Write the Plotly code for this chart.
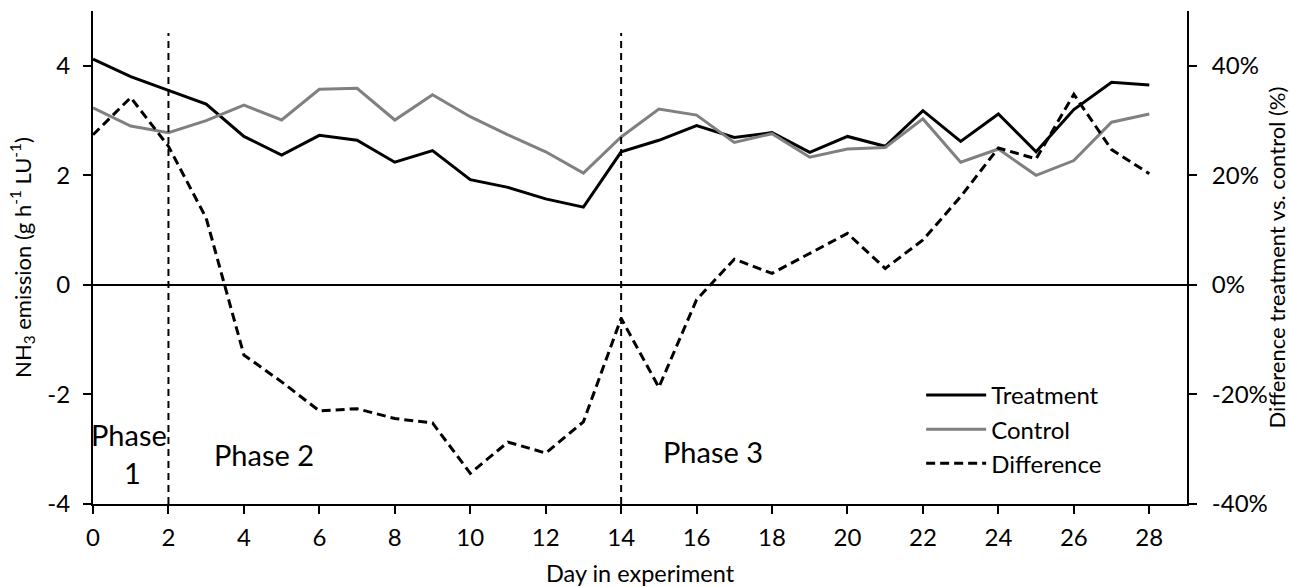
import plotly.graph_objects as go

days = list(range(29))
treatment = [4.12, 3.80, 3.55, 3.30, 2.71, 2.37, 2.73, 2.64, 2.24, 2.45,
             1.92, 1.78, 1.57, 1.42, 2.43, 2.64, 2.91, 2.69, 2.78, 2.42,
             2.71, 2.53, 3.18, 2.62, 3.12, 2.43, 3.20, 3.70, 3.65]
control = [3.23, 2.90, 2.78, 3.00, 3.28, 3.01, 3.57, 3.59, 3.01, 3.47,
           3.07, 2.74, 2.43, 2.04, 2.70, 3.21, 3.10, 2.60, 2.76, 2.33,
           2.48, 2.51, 3.03, 2.24, 2.48, 2.00, 2.27, 2.97, 3.12]
difference = [0.274, 0.342, 0.253, 0.122, -0.128, -0.177, -0.230, -0.226, -0.244, -0.252,
              -0.344, -0.287, -0.307, -0.250, -0.061, -0.187, -0.027, 0.047, 0.021, 0.058,
              0.094, 0.030, 0.082, 0.161, 0.250, 0.230, 0.348, 0.247, 0.203]

phase_bounds = [2, 14]
phase_labels = [("Phase", 0.96, -2.74), ("1", 1.04, -3.42),
                ("Phase 2", 4.52, -3.10), ("Phase 3", 16.44, -3.05)]
x_ticks = list(range(0, 29, 2))
y_ticks = [-4, -2, 0, 2, 4]
y_ticktext = ["-4", "-2", "0", "2", "4"]
y2_ticks = [-0.4, -0.2, 0, 0.2, 0.4]
y2_ticktext = ["-40%", "-20%", "0%", "20%", "40%"]

FONT = "Lato"
fig = go.Figure()
fig.add_trace(go.Scatter(x=days, y=treatment, name="Treatment", mode="lines",
                         line=dict(color="black", width=3)))
fig.add_trace(go.Scatter(x=days, y=control, name="Control", mode="lines",
                         line=dict(color="#808080", width=3)))
fig.add_trace(go.Scatter(x=days, y=difference, name="Difference", mode="lines",
                         yaxis="y2",
                         line=dict(color="black", width=3, dash="9px,5px")))

# zero line
fig.add_shape(type="line", xref="x", yref="y", x0=0, x1=29, y0=0, y1=0,
              line=dict(color="black", width=2), layer="below")
for b in phase_bounds:
    fig.add_shape(type="line", xref="x", yref="y", x0=b, x1=b, y0=-4, y1=4.6,
                  line=dict(color="black", width=2, dash="7px,5px"))

for txt, xx, yy in phase_labels:
    fig.add_annotation(x=xx, y=yy, xref="x", yref="y", text=txt, showarrow=False,
                       font=dict(family=FONT, size=29, color="black"))

fig.update_layout(
    width=1290, height=587,
    margin=dict(l=93, r=103, t=11, b=83),
    paper_bgcolor="white", plot_bgcolor="white",
    font=dict(family=FONT, size=24, color="black"),
    showlegend=True,
    legend=dict(x=0.757, y=0.266, xanchor="left", yanchor="top",
                bgcolor="rgba(0,0,0,0)", font=dict(family=FONT, size=24),
                tracegroupgap=0, itemwidth=60),
    xaxis=dict(range=[0, 29], tickvals=x_ticks, showgrid=False, zeroline=False,
               showline=True, linecolor="black", linewidth=2, automargin=False,
               ticks="outside", ticklen=8, tickwidth=2, tickcolor="black",
               ticklabelstandoff=3,
               title=dict(text="Day in experiment", standoff=16,
                          font=dict(family=FONT, size=23.5))),
    yaxis=dict(range=[-4, 5], tickvals=y_ticks, ticktext=y_ticktext,
               showgrid=False, zeroline=False, automargin=False,
               showline=True, linecolor="black", linewidth=2,
               ticks="outside", ticklen=8, tickwidth=2, tickcolor="black",
               ticklabelstandoff=8,
               title=dict(text="NH<sub>3</sub> emission (g h<sup>-1</sup> LU<sup>-1</sup>)",
                          standoff=10, font=dict(family=FONT, size=22))),
    yaxis2=dict(range=[-0.4, 0.5], tickvals=y2_ticks, ticktext=y2_ticktext,
                overlaying="y", side="right", showgrid=False, zeroline=False,
                showline=True, linecolor="black", linewidth=2, automargin=False,
                ticks="outside", ticklen=8, tickwidth=2, tickcolor="black",
                ticklabelstandoff=10,
                title=dict(text="Difference treatment vs. control (%)", standoff=6,
                           font=dict(family=FONT, size=22))),
)

fig.write_html("out.html")
